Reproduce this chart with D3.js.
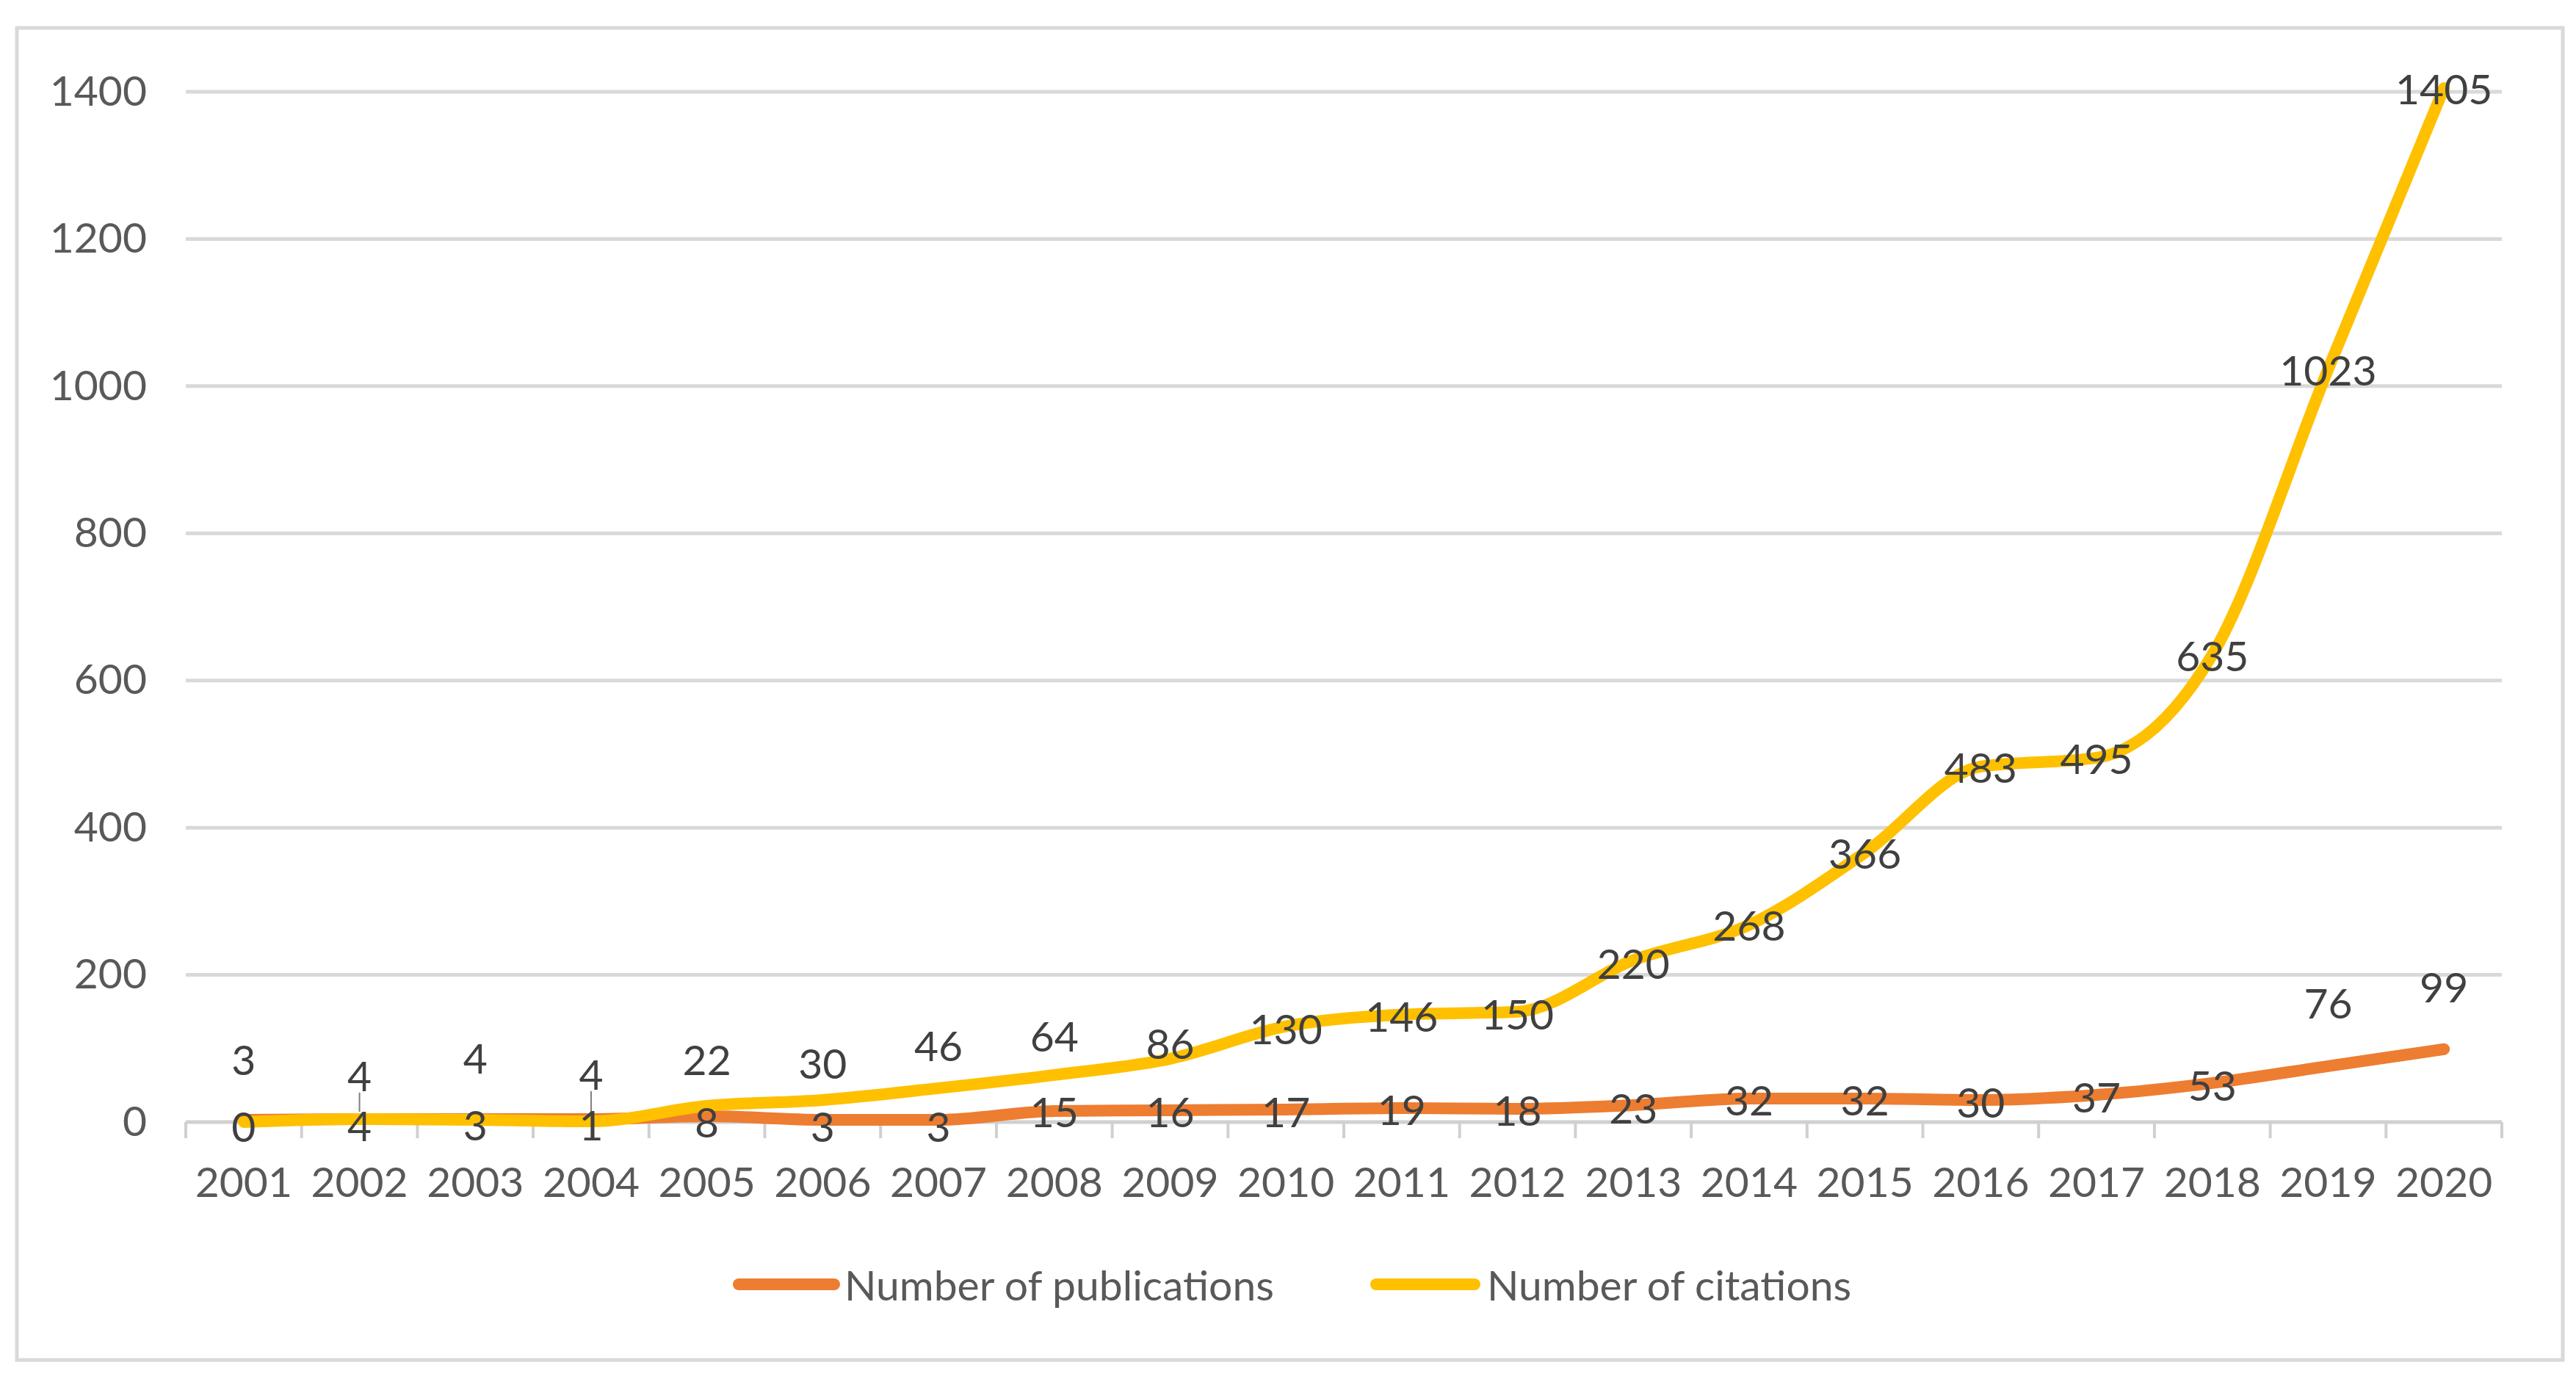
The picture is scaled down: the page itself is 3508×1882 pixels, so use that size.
<!DOCTYPE html>
<html><head><meta charset="utf-8">
<script src="https://cdn.jsdelivr.net/npm/d3@7"></script>
<style>body{margin:0;background:#fff} svg text{font-family:Lato,'Open Sans',sans-serif}</style>
</head><body><svg id="c" width="3508" height="1882"></svg>
<script>
const years = ["2001","2002","2003","2004","2005","2006","2007","2008","2009","2010","2011","2012","2013","2014","2015","2016","2017","2018","2019","2020"];
const publications = [3,4,4,4,8,3,3,15,16,17,19,18,23,32,32,30,37,53,76,99];
const citations = [0,4,3,1,22,30,46,64,86,130,146,150,220,268,366,483,495,635,1023,1405];
const yTicks = [0,200,400,600,800,1000,1200,1400];
const seriesNames = ["Number of publications","Number of citations"];
const seriesColors = ["#ED7D31","#FFC000"];
// where each data label sits, expressed in value units
const pubLabelAt = [86,64,88,66,1,-5,-5,15,15,15,18,17,20,31,31,28,35,51,163,185];
const citLabelAt = [-5,-4,-3,-3,86,81,105,118,108,128,145,148,217,268,366,483,495,635,1023,1405];
const leaderYears = ["2002","2004"];

const FS = 57;
const svg = d3.select("#c");
svg.append("rect").attr("width",3508).attr("height",1882).attr("fill","#fff");
svg.append("rect").attr("x",23).attr("y",38).attr("width",3467).attr("height",1814)
  .attr("fill","none").attr("stroke","#D9D9D9").attr("stroke-width",5);

const x = d3.scaleBand().domain(years).range([253,3407]);
const y = d3.scaleLinear().domain([0,1400]).range([1528,125]);
const cx = d => x(d) + x.bandwidth()/2;

// gridlines
svg.append("g").selectAll("line").data(yTicks.filter(t=>t>0)).join("line")
  .attr("x1",x.range()[0]).attr("x2",x.range()[1])
  .attr("y1",d=>y(d)).attr("y2",d=>y(d))
  .attr("stroke","#D9D9D9").attr("stroke-width",5);

// y axis labels
const ya = svg.append("g").attr("transform",`translate(${x.range()[0]},0)`)
  .call(d3.axisLeft(y).tickValues(yTicks).tickFormat(d3.format("d")).tickSize(0).tickPadding(53));
ya.select(".domain").remove();
ya.selectAll("text").attr("font-size",FS).attr("fill","#595959").attr("font-family","Lato,'Open Sans',sans-serif");

// x axis line and ticks
svg.append("line").attr("x1",x.range()[0]).attr("x2",x.range()[1])
  .attr("y1",y(0)).attr("y2",y(0)).attr("stroke","#D0D0D0").attr("stroke-width",5);
const bounds = years.map(d=>x(d)).concat([x.range()[1]]);
svg.append("g").selectAll("line").data(bounds).join("line")
  .attr("x1",d=>d).attr("x2",d=>d).attr("y1",y(0)).attr("y2",y(0)+22)
  .attr("stroke","#D0D0D0").attr("stroke-width",4);
svg.append("g").selectAll("text").data(years).join("text")
  .attr("x",cx).attr("y",1608).attr("text-anchor","middle").attr("dominant-baseline","central")
  .attr("font-size",FS).attr("fill","#595959").text(d=>d);

// lines
const line = d3.line().x((d,i)=>cx(years[i])).y(d=>y(d)).curve(d3.curveMonotoneX);
[publications,citations].forEach((s,k)=>{
  svg.append("path").attr("d",line(s)).attr("fill","none")
    .attr("stroke",seriesColors[k]).attr("stroke-width",16).attr("stroke-linecap","round").attr("stroke-linejoin","round");
});

// leader lines
years.forEach((yr,i)=>{
  if(leaderYears.includes(yr)){
    svg.append("line").attr("x1",cx(yr)).attr("x2",cx(yr))
      .attr("y1",y(pubLabelAt[i])+24).attr("y2",y(publications[i])-10)
      .attr("stroke","#7F7F7F").attr("stroke-width",2);
  }
});

// data labels
[[publications,pubLabelAt],[citations,citLabelAt]].forEach(([s,at])=>{
  svg.append("g").selectAll("text").data(s).join("text")
    .attr("x",(d,i)=>cx(years[i])).attr("y",(d,i)=>y(at[i]))
    .attr("text-anchor","middle").attr("dominant-baseline","central")
    .attr("font-size",FS).attr("fill","#404040").text(d=>d);
});

// legend
const legendItems = [{x1:1006,x2:1136,tx:1150},{x1:1874,x2:2008,tx:2025}];
legendItems.forEach((l,k)=>{
  svg.append("line").attr("x1",l.x1).attr("x2",l.x2).attr("y1",1749).attr("y2",1749)
    .attr("stroke",seriesColors[k]).attr("stroke-width",16).attr("stroke-linecap","round");
  svg.append("text").attr("x",l.tx).attr("y",1749).attr("dominant-baseline","central")
    .attr("font-size",FS).attr("fill","#595959").text(seriesNames[k]);
});
</script></body></html>
